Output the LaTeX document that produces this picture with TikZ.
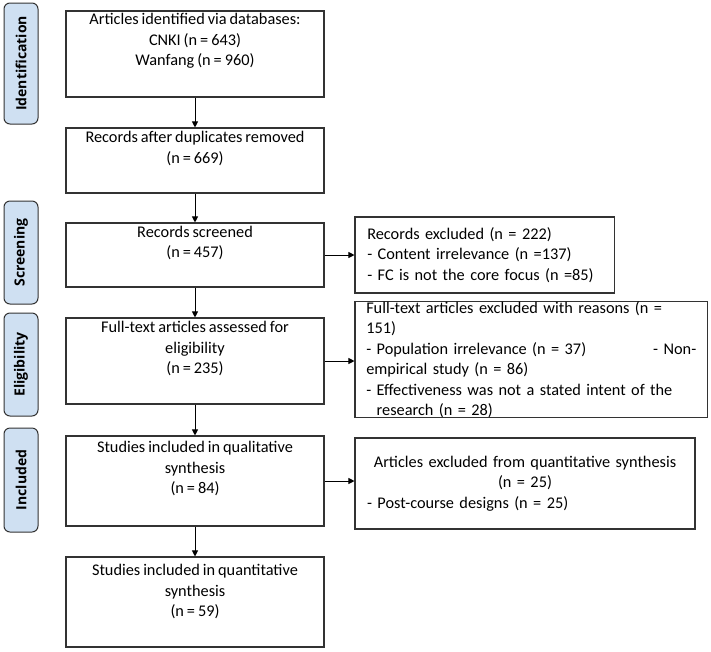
\documentclass[tikz,border=0pt]{standalone}
\usepackage{fontspec}
\setmainfont{Carlito}[WordSpace=0.8]
\newfontfamily\labfont{Open Sans}
\usetikzlibrary{arrows.meta}
\definecolor{lblue}{HTML}{CFE0F2}
\definecolor{edge}{HTML}{333333}
\begin{document}
\begin{tikzpicture}[x=1pt,y=-1pt,
  box/.style={draw=edge,line width=1.1pt,rectangle,inner sep=0pt,align=center,font=\fontsize{16.3}{20.5}\selectfont},
  rbox/.style={box,align=left},
  stage/.style={draw=edge,line width=1pt,fill=lblue,rounded corners=6pt,rotate=90,minimum height=34pt,inner sep=0pt,font=\labfont\bfseries\fontsize{14}{16}\selectfont},
  arr/.style={draw=black,line width=0.9pt,-{Triangle[length=6pt,width=6pt]}}]
\useasboundingbox (0,0) rectangle (711,651);
\node[stage,minimum width=121pt] (L1) at (21,63.5) {Identification};
\node[stage,minimum width=103pt] (L2) at (21,252.5) {Screening};
\node[stage,minimum width=103pt] (L3) at (21,364.5) {Eligibility};
\node[stage,minimum width=104pt] (L4) at (21,480) {Included};
\node[box,minimum width=258pt,minimum height=86pt] (b1) at (195,54) {Articles identified via databases:\\CNKI (n = 643)\\Wanfang (n = 960)\\[8pt]};
\node[box,minimum width=258pt,minimum height=65pt] (b2) at (195,160.5) {Records after duplicates removed\\(n = 669)\\[6pt]};
\node[box,minimum width=258pt,minimum height=64pt] (b3) at (195,255) {Records screened\\(n = 457)\\[6pt]};
\node[box,minimum width=258pt,minimum height=86pt] (b4) at (195,361) {Full-text articles assessed for\\eligibility\\(n = 235)\\[6pt]};
\node[box,minimum width=258pt,minimum height=90pt] (b5) at (195,481) {Studies included in qualitative\\synthesis\\(n = 84)\\[6pt]};
\node[box,minimum width=258pt,minimum height=90pt] (b6) at (195,602) {Studies included in quantitative\\synthesis\\(n = 59)\\[2pt]};
\node[rbox,minimum width=259.5pt,minimum height=76pt,text width=235pt] (r1) at (484.75,255) {Records excluded (n = 222)\\- Content irrelevance (n =137)\\- FC is not the core focus (n =85)\\[2pt]};
\node[rbox,minimum width=352.5pt,minimum height=115pt,text width=330pt] (r2) at (531.25,359.5) {Full-text articles excluded with reasons (n = 151)\\- Population irrelevance (n = 37)\hfill - Non-\\empirical study (n = 86)\\- Effectiveness was not a stated intent of the\\\phantom{- }research (n = 28)};
\node[rbox,minimum width=340pt,minimum height=91pt,text width=316pt] (r3) at (525,483.5) {\centering Articles excluded from quantitative synthesis\\(n = 25)\\\raggedright - Post-course designs (n = 25)\\[16pt]};
\draw[arr] (b1) -- (b2);
\draw[arr] (b2) -- (b3);
\draw[arr] (b3) -- (b4);
\draw[arr] (b4) -- (b5);
\draw[arr] (b5) -- (b6);
\draw[arr] (b3.east) -- (b3.east -| r1.west);
\draw[arr] (b4.east) -- (b4.east -| r2.west);
\draw[arr] (b5.east) -- (b5.east -| r3.west);
\end{tikzpicture}
\end{document}
